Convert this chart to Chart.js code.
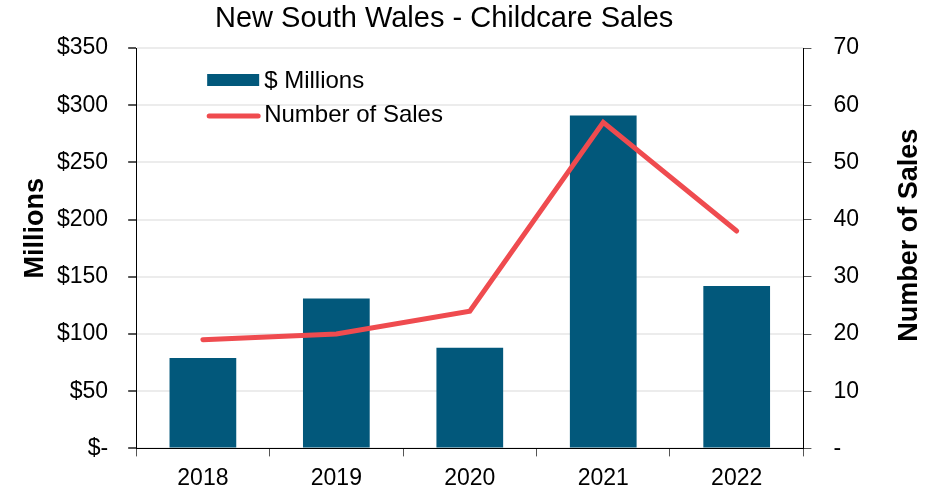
<!DOCTYPE html>
<html>
<head>
<meta charset="utf-8">
<script src="https://cdn.jsdelivr.net/npm/chart.js@4/dist/chart.umd.min.js"></script>
<style>
  html, body { margin: 0; padding: 0; background: #fff; }
  #wrap { width: 943px; height: 491px; }
</style>
</head>
<body>
<div id="wrap"><canvas id="salesChart" width="943" height="491"></canvas></div>
<script>
const years = ['2018', '2019', '2020', '2021', '2022']
const millions = [79, 131, 88, 291, 142]
const salesCount = [19, 20, 24, 57, 38]
const leftTicks = [0, 50, 100, 150, 200, 250, 300, 350]
const rightTicks = [0, 10, 20, 30, 40, 50, 60, 70]

const FONT = "'Liberation Sans', Arial, Helvetica, sans-serif"
const BAR = '#02587b'
const LINE = '#ef4b4f'
const TITLE = 'New South Wales - Childcare Sales'

// chart title, legend inside the plot (top-left) and both axis titles,
// each reading bottom-to-top
const extras = {
  id: 'extras',
  afterDraw(chart) {
    const { ctx, chartArea } = chart
    const ds = chart.data.datasets
    const barDs = ds.find(d => d.type === 'bar')
    const lineDs = ds.find(d => d.type === 'line')

    ctx.save()
    ctx.font = `29px ${FONT}`
    ctx.fillStyle = '#000'
    ctx.textAlign = 'center'
    ctx.textBaseline = 'middle'
    ctx.fillText(TITLE, chartArea.left + 308, chartArea.top - 29)
    ctx.restore()

    const x = chartArea.left + 71
    const y = chartArea.top + 32
    ctx.save()
    ctx.font = `24px ${FONT}`
    ctx.textBaseline = 'middle'
    ctx.fillStyle = barDs.backgroundColor
    ctx.fillRect(x, y - 6, 52, 12)
    ctx.fillStyle = '#000'
    ctx.fillText(barDs.label, x + 57, y + 1)

    ctx.strokeStyle = lineDs.borderColor
    ctx.lineWidth = 5
    ctx.lineCap = 'round'
    ctx.beginPath()
    ctx.moveTo(x + 2, y + 36)
    ctx.lineTo(x + 51, y + 36)
    ctx.stroke()
    ctx.fillStyle = '#000'
    ctx.fillText(lineDs.label, x + 57, y + 35)
    ctx.restore()

    const midY = (chartArea.top + chartArea.bottom) / 2
    const axisTitle = (text, cx, cy) => {
      ctx.save()
      ctx.font = `bold 27px ${FONT}`
      ctx.fillStyle = '#000'
      ctx.textAlign = 'center'
      ctx.textBaseline = 'middle'
      ctx.translate(cx, cy)
      ctx.rotate(-Math.PI / 2)
      ctx.fillText(text, 0, 0)
      ctx.restore()
    }
    axisTitle('Millions', chartArea.left - 101, midY - 20)
    axisTitle('Number of Sales', chartArea.right + 106, midY - 13)
  }
}

new Chart(document.getElementById('salesChart'), {
  data: {
    labels: years,
    datasets: [
      {
        type: 'line',
        label: 'Number of Sales',
        data: salesCount,
        yAxisID: 'y1',
        borderColor: LINE,
        backgroundColor: LINE,
        borderWidth: 5,
        borderCapStyle: 'round',
        pointRadius: 0,
        tension: 0,
        order: 0
      },
      {
        type: 'bar',
        label: '$ Millions',
        data: millions,
        yAxisID: 'y',
        backgroundColor: BAR,
        categoryPercentage: 1,
        barPercentage: 0.5,
        order: 1
      }
    ]
  },
  options: {
    responsive: false,
    animation: false,
    layout: { padding: { left: 37, right: 62, top: 48, bottom: -9 } },
    plugins: {
      legend: { display: false },
      tooltip: { enabled: false },
      title: { display: false }
    },
    scales: {
      x: {
        offset: true,
        grid: { offset: true, drawOnChartArea: false, tickLength: 8, color: '#555' },
        border: { color: '#000', width: 1 },
        ticks: { color: '#000', font: { family: FONT, size: 23 }, padding: 8 }
      },
      y: {
        position: 'left',
        min: 0, max: 350,
        afterBuildTicks: axis => { axis.ticks = leftTicks.map(v => ({ value: v })) },
        grid: { color: '#ececec', lineWidth: 2, tickLength: 8, tickColor: '#555' },
        border: { color: '#000', width: 1 },
        ticks: {
          color: '#000', font: { family: FONT, size: 23 }, padding: 20,
          callback: v => v === 0 ? '$-' : '$' + v
        }
      },
      y1: {
        position: 'right',
        min: 0, max: 70,
        afterBuildTicks: axis => { axis.ticks = rightTicks.map(v => ({ value: v })) },
        grid: { drawOnChartArea: false, tickLength: 8, color: '#555' },
        border: { color: '#000', width: 1 },
        ticks: {
          color: '#000', font: { family: FONT, size: 23 }, padding: 22,
          callback: v => v === 0 ? '-' : v
        }
      }
    }
  },
  plugins: [extras]
})
</script>
</body>
</html>
